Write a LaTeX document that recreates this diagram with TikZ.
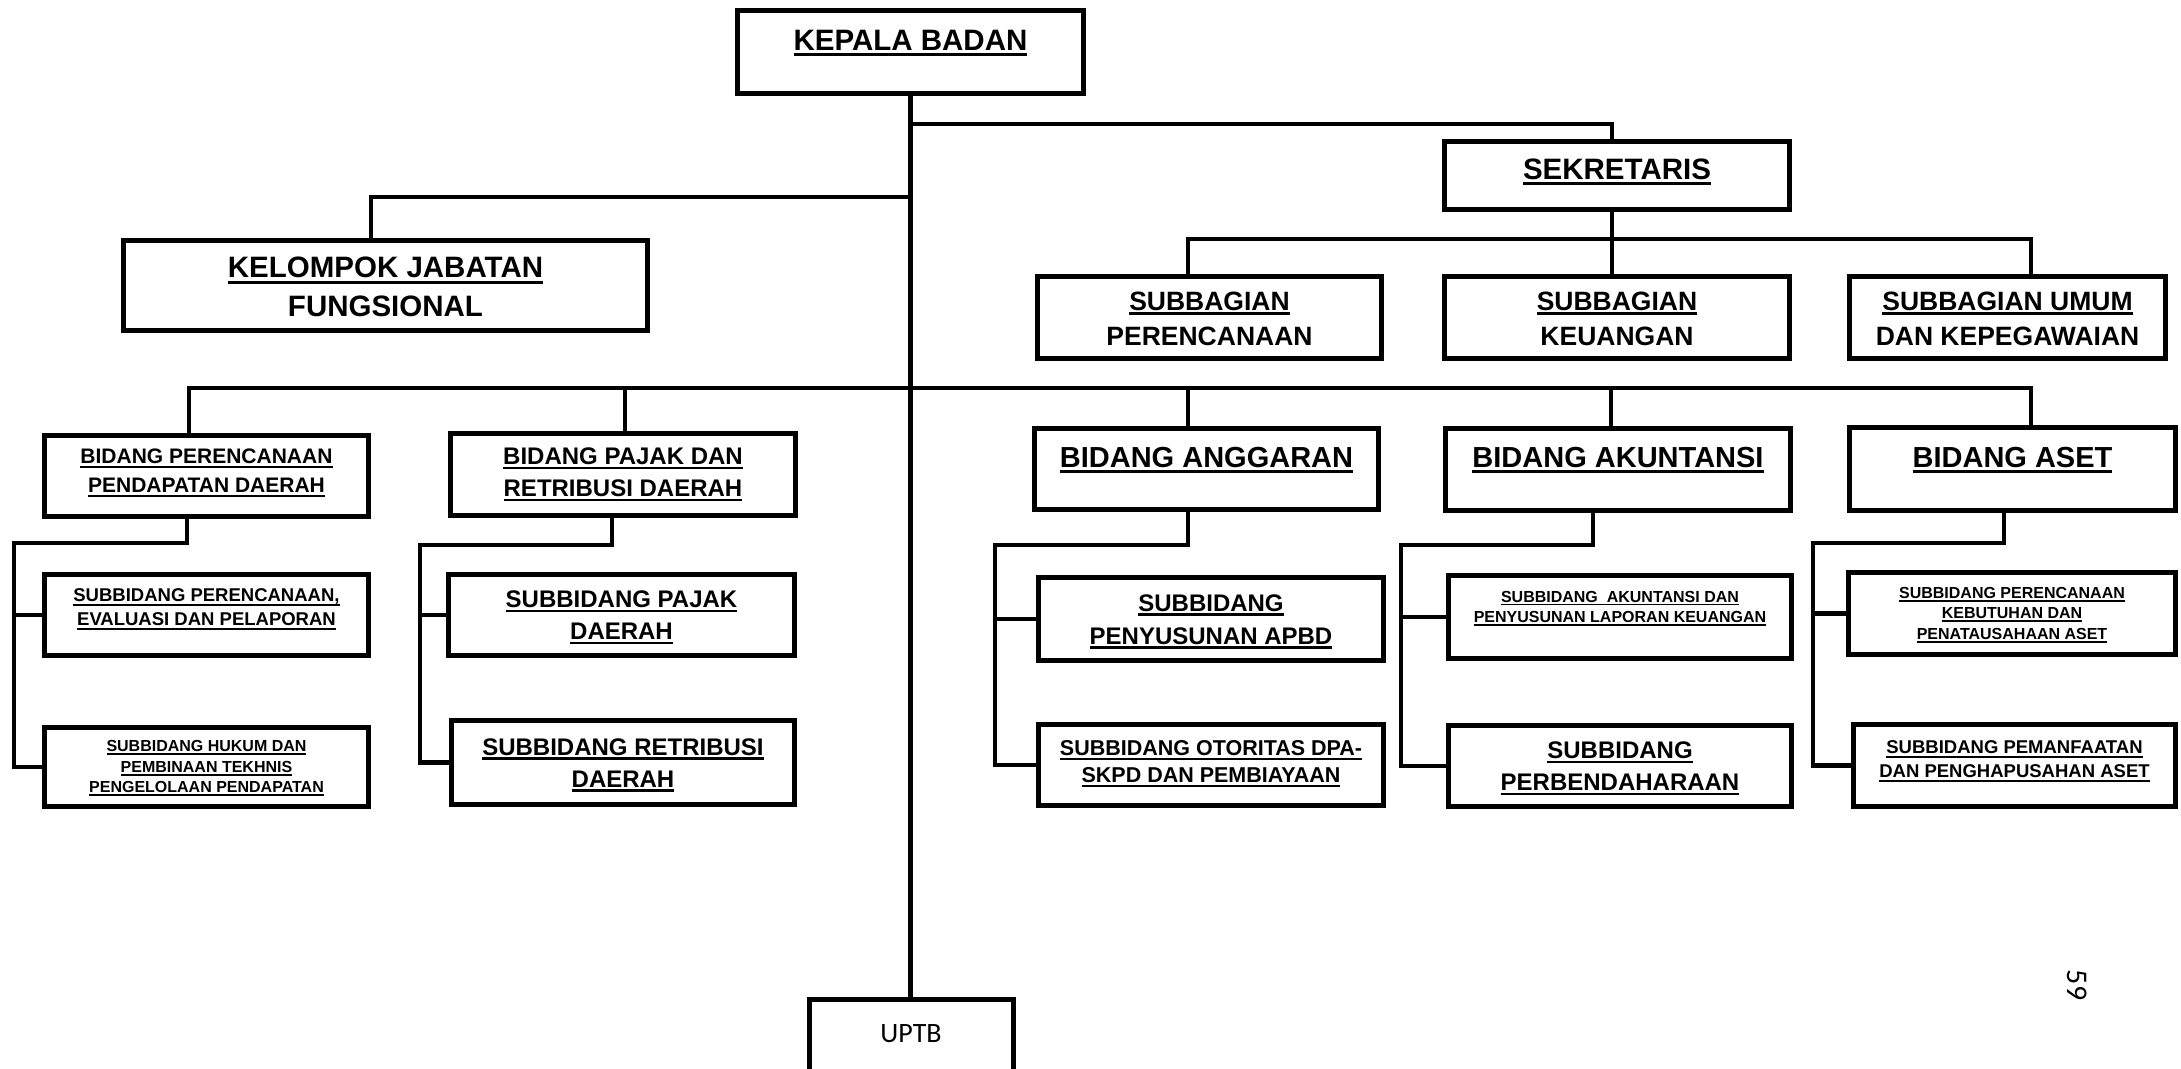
\documentclass[tikz,border=0pt]{standalone}
\usepackage{fontspec}
\setmainfont{Liberation Sans}
\newfontfamily\calibrifont{Carlito}
\newcommand{\ulbox}[1]{\setbox0=\hbox{#1}\rlap{\rule[-0.2em]{\wd0}{0.11em}}\box0}
\newcommand{\boxtext}[2][0pt]{\raisebox{\dimexpr#1-0.35em\relax}[0pt][0pt]{\begin{tabular}[c]{@{}c@{}}#2\end{tabular}}}
\tikzset{
  unit/.style={draw,line width=5pt,inner sep=0pt,fill=white},
  link/.style={line width=4.5pt},
  txt/.style 2 args={font=\bfseries\fontsize{#1}{#2}\selectfont},
}

\begin{document}
\begin{tikzpicture}[x=1pt,y=-1pt]
\useasboundingbox (0,0) rectangle (2181,1068);
\node[unit,txt={29.5}{36},minimum width=346pt,minimum height=83pt] (kepala) at (910.5,52) {\boxtext[13pt]{\ulbox{KEPALA BADAN}}};
\node[unit,txt={29.5}{36},minimum width=345pt,minimum height=68pt] (sekretaris) at (1617,175.5) {\boxtext[7.5pt]{\ulbox{SEKRETARIS}}};
\node[unit,txt={29.5}{39},minimum width=524pt,minimum height=90pt] (kjf) at (385.5,285.5) {\boxtext{\ulbox{KELOMPOK JABATAN}\\FUNGSIONAL}};
\node[unit,txt={26.5}{35},minimum width=344pt,minimum height=82pt] (sbren) at (1209.5,317.5) {\boxtext{\ulbox{SUBBAGIAN}\\PERENCANAAN}};
\node[unit,txt={26.5}{35},minimum width=345pt,minimum height=82pt] (sbkeu) at (1617,317.5) {\boxtext{\ulbox{SUBBAGIAN}\\KEUANGAN}};
\node[unit,txt={26.5}{35},minimum width=316pt,minimum height=82pt] (sbumum) at (2007.5,317.5) {\boxtext{\ulbox{SUBBAGIAN UMUM}\\DAN KEPEGAWAIAN}};

\node[unit,txt={21}{29},minimum width=324pt,minimum height=81pt] (bpp) at (206.5,476) {\boxtext[5.5pt]{\ulbox{BIDANG PERENCANAAN}\\\ulbox{PENDAPATAN DAERAH}}};
\node[unit,txt={24}{32},minimum width=345pt,minimum height=82pt] (bpr) at (623,474.5) {\boxtext[2.5pt]{\ulbox{BIDANG PAJAK DAN}\\\ulbox{RETRIBUSI DAERAH}}};
\node[unit,txt={29}{36},minimum width=344pt,minimum height=81pt] (bang) at (1206.5,469) {\boxtext[13pt]{\ulbox{BIDANG ANGGARAN}}};
\node[unit,txt={29}{36},minimum width=345pt,minimum height=82pt] (bak) at (1618,469.5) {\boxtext[13.5pt]{\ulbox{BIDANG AKUNTANSI}}};
\node[unit,txt={29}{36},minimum width=326pt,minimum height=83pt] (baset) at (2012.5,469) {\boxtext[13pt]{\ulbox{BIDANG ASET}}};

\node[unit,txt={18.5}{24},minimum width=324pt,minimum height=81pt] (s1a) at (206.5,615) {\boxtext[8pt]{\ulbox{SUBBIDANG PERENCANAAN,}\\\ulbox{EVALUASI DAN PELAPORAN}}};
\node[unit,txt={16}{20.5},minimum width=324pt,minimum height=79pt] (s1b) at (206.5,767) {\boxtext{\ulbox{SUBBIDANG HUKUM DAN}\\\ulbox{PEMBINAAN TEKHNIS}\\\ulbox{PENGELOLAAN PENDAPATAN}}};
\node[unit,txt={24}{32},minimum width=346pt,minimum height=81pt] (s2a) at (621.5,615) {\boxtext{\ulbox{SUBBIDANG PAJAK}\\\ulbox{DAERAH}}};
\node[unit,txt={24}{32},minimum width=343pt,minimum height=84pt] (s2b) at (623,762.5) {\boxtext{\ulbox{SUBBIDANG RETRIBUSI}\\\ulbox{DAERAH}}};
\node[unit,txt={24}{33},minimum width=345pt,minimum height=83pt] (s3a) at (1211,619) {\boxtext{\ulbox{SUBBIDANG}\\\ulbox{PENYUSUNAN APBD}}};
\node[unit,txt={21.5}{27},minimum width=345pt,minimum height=81pt] (s3b) at (1211,765) {\boxtext[3.5pt]{\ulbox{SUBBIDANG OTORITAS DPA-}\\\ulbox{SKPD DAN PEMBIAYAAN}}};
\node[unit,txt={16}{20.5},minimum width=343pt,minimum height=83pt] (s4a) at (1620,617) {\boxtext[10pt]{\ulbox{SUBBIDANG~~AKUNTANSI DAN}\\\ulbox{PENYUSUNAN LAPORAN KEUANGAN}}};
\node[unit,txt={24}{32},minimum width=343pt,minimum height=81pt] (s4b) at (1620,766) {\boxtext{\ulbox{SUBBIDANG}\\\ulbox{PERBENDAHARAAN}}};
\node[unit,txt={16}{20.5},minimum width=327pt,minimum height=82pt] (s5a) at (2012,613.5) {\boxtext{\ulbox{SUBBIDANG PERENCANAAN}\\\ulbox{KEBUTUHAN DAN}\\\ulbox{PENATAUSAHAAN ASET}}};
\node[unit,txt={18.5}{24},minimum width=322pt,minimum height=82pt] (s5b) at (2014.5,765.5) {\boxtext[6.5pt]{\ulbox{SUBBIDANG PEMANFAATAN}\\\ulbox{DAN PENGHAPUSAHAN ASET}}};

\node[unit,font=\calibrifont\fontsize{28}{34}\selectfont,minimum width=204pt,minimum height=84pt] (uptb) at (911,1041) {\boxtext[9pt]{UPTB}};
\node[font=\calibrifont\fontsize{30}{36}\selectfont,rotate=-90,inner sep=0pt] (pageno) at (2077,985) {59};

\coordinate (sekj) at (1612,124);
\coordinate (kjfj) at (371,197);
\coordinate (sd1) at (1188,239);
\coordinate (sd3) at (2031,239);
\coordinate (bd1) at (189,388);
\coordinate (bd2) at (625,388);
\coordinate (bd3) at (1188,388);
\coordinate (bd4) at (1611,388);
\coordinate (bd5) at (2031,388);
\coordinate (e1) at (187,543);  \coordinate (v1) at (14,543);
\coordinate (e2) at (612,545);  \coordinate (v2) at (420,545);
\coordinate (e3) at (1188,545); \coordinate (v3) at (995,545);
\coordinate (e4) at (1593,545); \coordinate (v4) at (1401,545);
\coordinate (e5) at (2004,543); \coordinate (v5) at (1813,543);

\draw[link] (kepala.south) -- (kepala.south |- uptb.north);
\draw[link] (kepala.south |- sekj) -- (sekj) -- (sekretaris.north -| sekj);
\draw[link] (kepala.south |- kjfj) -- (kjfj) -- (kjf.north -| kjfj);
\draw[link] (sekretaris.south -| sekj) -- (sbkeu.north -| sekj);
\draw[link] (sbren.north -| sd1) -- (sd1) -- (sd3) -- (sbumum.north -| sd3);
\draw[link] (bpp.north -| bd1) -- (bd1) -- (bd5) -- (baset.north -| bd5);
\foreach \n/\k in {bpr/2,bang/3,bak/4}
  \draw[link] (bd\k) -- (\n.north -| bd\k);
\foreach \b/\u/\l/\k in {bpp/s1a/s1b/1,bpr/s2a/s2b/2,bang/s3a/s3b/3,bak/s4a/s4b/4,baset/s5a/s5b/5}{
  \draw[link] (\b.south -| e\k) -- (e\k) -- (v\k) |- (\l.west);
  \draw[link] (v\k |- \u.west) -- (\u.west);
}
\end{tikzpicture}
\end{document}
